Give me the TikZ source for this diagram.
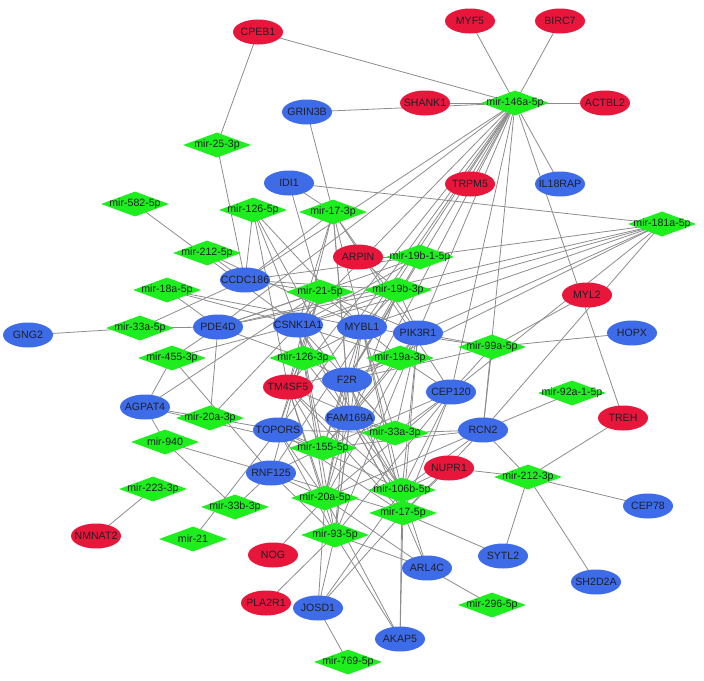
\documentclass[tikz,border=0pt]{standalone}
\usepackage{fontspec}
\setmainfont{Liberation Sans}
\usetikzlibrary{shapes.geometric,backgrounds}
\definecolor{gred}{RGB}{232,22,58}
\definecolor{gblue}{RGB}{62,108,232}
\definecolor{ggreen}{RGB}{30,238,30}
\definecolor{gedge}{RGB}{140,140,140}
\definecolor{gtext}{RGB}{30,30,40}
\tikzset{
  gene/.style={ellipse,fill=#1,draw=none,minimum width=50pt,minimum height=25pt,inner sep=0pt},
  mir/.style={diamond,fill=ggreen,draw=none,minimum width=68pt,minimum height=25pt,inner sep=0pt},
  every label/.style={font=\fontsize{10.6}{12}\selectfont,text=gtext,inner sep=0pt},
  edge/.style={draw=gedge,line width=0.8pt}
}
\newcommand\gnode[4]{\node[gene=#1,label={center:#4}] (#2) at (#3) {};}
\newcommand\mnode[3]{\node[mir,label={center:#3}] (#1) at (#2) {};}
\begin{document}
\begin{tikzpicture}[x=1pt,y=-1pt]
\useasboundingbox (0,0) rectangle (704,680);
% genes
\gnode{gred}{CPEB1}{258,32}{CPEB1}
\gnode{gred}{MYF5}{470,21}{MYF5}
\gnode{gred}{BIRC7}{560,21}{BIRC7}
\gnode{gred}{SHANK1}{425,103}{SHANK1}
\gnode{gred}{ACTBL2}{605,103}{ACTBL2}
\gnode{gred}{TRPM5}{470,184}{TRPM5}
\gnode{gred}{ARPIN}{358,257}{ARPIN}
\gnode{gred}{MYL2}{587,295}{MYL2}
\gnode{gred}{TMSF}{288,387}{TM4SF5}
\gnode{gred}{TREH}{623,418}{TREH}
\gnode{gred}{NUPR1}{449,468}{NUPR1}
\gnode{gred}{NMNAT2}{96,536}{NMNAT2}
\gnode{gred}{NOG}{273,555}{NOG}
\gnode{gred}{PLA2R1}{266,603}{PLA2R1}
\gnode{gblue}{GRIN3B}{307,112}{GRIN3B}
\gnode{gblue}{IDI1}{289,183}{IDI1}
\gnode{gblue}{IL18RAP}{560,184}{IL18RAP}
\gnode{gblue}{CCDC186}{245,280}{CCDC186}
\gnode{gblue}{GNG2}{28,335}{GNG2}
\gnode{gblue}{PDE4D}{218,327}{PDE4D}
\gnode{gblue}{CSNK1A1}{298,325}{CSNK1A1}
\gnode{gblue}{MYBL1}{362,327}{MYBL1}
\gnode{gblue}{PIK3R1}{418,333}{PIK3R1}
\gnode{gblue}{HOPX}{632,333}{HOPX}
\gnode{gblue}{F2R}{347,380}{F2R}
\gnode{gblue}{CEP120}{451,392}{CEP120}
\gnode{gblue}{AGPAT4}{145,407}{AGPAT4}
\gnode{gblue}{FAM169A}{350,418}{FAM169A}
\gnode{gblue}{TOPORS}{278,430}{TOPORS}
\gnode{gblue}{RCN2}{483,430}{RCN2}
\gnode{gblue}{RNF125}{271,473}{RNF125}
\gnode{gblue}{CEP78}{648,506}{CEP78}
\gnode{gblue}{SYTL2}{503,556}{SYTL2}
\gnode{gblue}{ARL4C}{427,568}{ARL4C}
\gnode{gblue}{SH2D2A}{596,582}{SH2D2A}
\gnode{gblue}{JOSD1}{318,608}{JOSD1}
\gnode{gblue}{AKAP5}{400,639}{AKAP5}
% mirs
\mnode{m146a}{515,103}{mir-146a-5p}
\mnode{m25}{217,145}{mir-25-3p}
\mnode{m582}{135,204}{mir-582-5p}
\mnode{m126f}{253,210}{mir-126-5p}
\mnode{m17t}{333,212}{mir-17-3p}
\mnode{m181}{662,224}{mir-181a-5p}
\mnode{m212f}{207,253}{mir-212-5p}
\mnode{m19b1}{420,257}{mir-19b-1-5p}
\mnode{m18a}{167,290}{mir-18a-5p}
\mnode{m21f}{320,292}{mir-21-5p}
\mnode{m19b}{398,290}{mir-19b-3p}
\mnode{m33af}{140,328}{mir-33a-5p}
\mnode{m99a}{492,347}{mir-99a-5p}
\mnode{m455}{172,358}{mir-455-3p}
\mnode{m126t}{303,358}{mir-126-3p}
\mnode{m19a}{400,358}{mir-19a-3p}
\mnode{m92a}{572,393}{mir-92a-1-5p}
\mnode{m20at}{210,418}{mir-20a-3p}
\mnode{m940}{165,442}{mir-940}
\mnode{m33at}{395,433}{mir-33a-3p}
\mnode{m155}{323,448}{mir-155-5p}
\mnode{m212t}{528,477}{mir-212-3p}
\mnode{m106b}{402,490}{mir-106b-5p}
\mnode{m223}{153,489}{mir-223-3p}
\mnode{m20af}{325,498}{mir-20a-5p}
\mnode{m33bt}{235,507}{mir-33b-3p}
\mnode{m17f}{403,513}{mir-17-5p}
\mnode{m21}{193,539}{mir-21}
\mnode{m93}{335,535}{mir-93-5p}
\mnode{m296}{492,605}{mir-296-5p}
\mnode{m769}{348,662}{mir-769-5p}
\begin{scope}[on background layer]
\foreach \a/\b in {
 m146a/CPEB1,m146a/MYF5,m146a/BIRC7,m146a/SHANK1,m146a/ACTBL2,m146a/GRIN3B,m146a/IL18RAP,m146a/TRPM5,m146a/TREH,
 m146a/CCDC186,m146a/PDE4D,m146a/CSNK1A1,m146a/TMSF,m146a/MYBL1,m146a/F2R,m146a/TOPORS,m146a/FAM169A,m146a/RNF125,m146a/PIK3R1,m146a/CEP120,m146a/RCN2,
 m181/IDI1,m181/CCDC186,m181/CSNK1A1,m181/MYBL1,m181/PIK3R1,m181/F2R,m181/CEP120,m181/RCN2,m181/PDE4D,
 m25/CPEB1,m25/CCDC186,m582/CSNK1A1,
 m126f/CCDC186,m126f/CSNK1A1,m126f/MYBL1,m126f/TMSF,m126f/F2R,
 m17t/IDI1,m17t/GRIN3B,m17t/CCDC186,m17t/CSNK1A1,m17t/MYBL1,m17t/PIK3R1,m17t/TMSF,m17t/F2R,m17t/FAM169A,m17t/CEP120,
 m212f/CCDC186,m212f/MYBL1,
 m19b1/ARPIN,m19b1/CSNK1A1,m19b1/F2R,m19b1/PDE4D,
 m18a/PDE4D,m18a/CSNK1A1,m18a/MYBL1,
 m21f/CCDC186,m21f/IDI1,m21f/PDE4D,m21f/CSNK1A1,m21f/MYBL1,m21f/PIK3R1,m21f/TMSF,m21f/TOPORS,m21f/RNF125,m21f/AGPAT4,
 m19b/ARPIN,m19b/PIK3R1,m19b/MYBL1,m19b/CCDC186,m19b/CSNK1A1,m19b/PDE4D,m19b/F2R,m19b/FAM169A,
 m33af/GNG2,m33af/PDE4D,m33af/CCDC186,
 m99a/HOPX,m99a/MYL2,m99a/PIK3R1,m99a/CEP120,m99a/RCN2,m99a/MYBL1,m99a/F2R,
 m455/PDE4D,m455/AGPAT4,m455/CSNK1A1,m455/RNF125,
 m126t/CSNK1A1,m126t/TMSF,m126t/F2R,m126t/PDE4D,m126t/MYBL1,m126t/FAM169A,m126t/TOPORS,
 m19a/MYBL1,m19a/PIK3R1,m19a/F2R,m19a/CEP120,m19a/FAM169A,m19a/TMSF,m19a/CSNK1A1,
 m92a/RCN2,
 m20at/AGPAT4,m20at/TOPORS,m20at/PDE4D,m20at/CSNK1A1,
 m940/AGPAT4,m940/RNF125,m940/m33bt,
 m33at/FAM169A,m33at/CEP120,m33at/RCN2,m33at/F2R,m33at/MYBL1,m33at/TMSF,m33at/TOPORS,m33at/CSNK1A1,m33at/PIK3R1,
 m155/TOPORS,m155/FAM169A,m155/F2R,m155/TMSF,m155/CSNK1A1,m155/MYBL1,m155/PIK3R1,m155/CEP120,m155/RNF125,m155/AGPAT4,m155/RCN2,
 m212t/NUPR1,m212t/RCN2,m212t/TREH,m212t/CEP78,m212t/SYTL2,m212t/SH2D2A,
 m106b/NUPR1,m106b/RCN2,m106b/CEP120,m106b/FAM169A,m106b/F2R,m106b/MYBL1,m106b/CSNK1A1,m106b/TOPORS,m106b/TMSF,m106b/JOSD1,m106b/ARL4C,m106b/AKAP5,m106b/PIK3R1,
 m223/NMNAT2,
 m20af/RNF125,m20af/TOPORS,m20af/FAM169A,m20af/F2R,m20af/TMSF,m20af/CSNK1A1,m20af/MYBL1,m20af/NOG,m20af/JOSD1,m20af/AKAP5,m20af/ARL4C,m20af/CEP120,m20af/RCN2,m20af/PIK3R1,
 m33bt/RNF125,m21/TOPORS,
 m17f/NUPR1,m17f/SYTL2,m17f/ARL4C,m17f/AKAP5,m17f/JOSD1,m17f/RNF125,m17f/TOPORS,m17f/FAM169A,m17f/F2R,m17f/MYBL1,m17f/CEP120,m17f/RCN2,m17f/PIK3R1,m17f/TMSF,m17f/CSNK1A1,
 m93/PLA2R1,m93/JOSD1,m93/AKAP5,m93/ARL4C,m93/RNF125,m93/TOPORS,m93/FAM169A,m93/F2R,m93/TMSF,m93/MYBL1,m93/CSNK1A1,m93/CEP120,m93/PIK3R1,
 m296/ARL4C,m769/JOSD1}
 \draw[edge] (\a.center) -- (\b.center);
\end{scope}
\end{tikzpicture}
\end{document}
